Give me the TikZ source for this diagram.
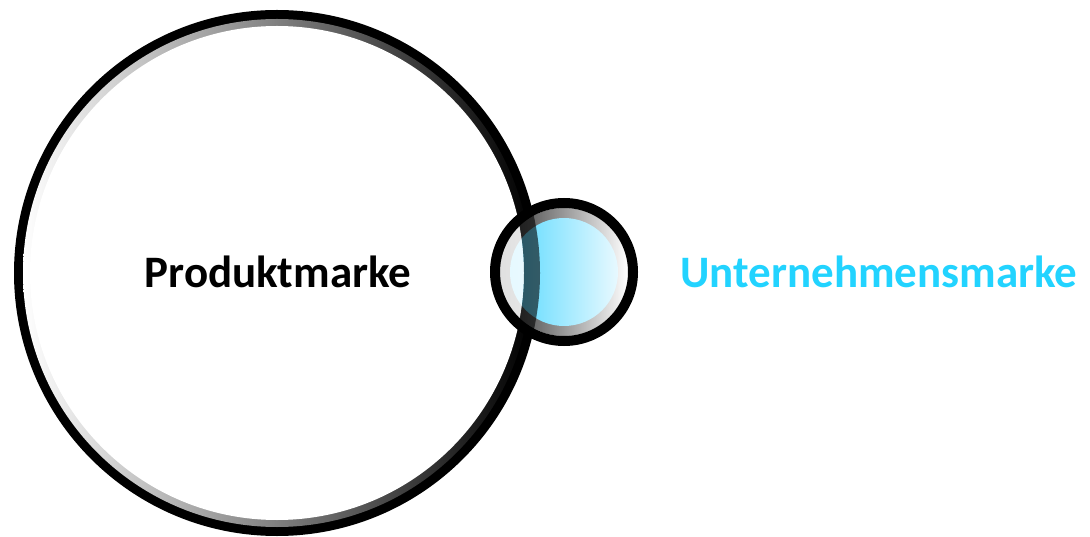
\documentclass[tikz,border=0pt]{standalone}
\usepackage{fontspec}
\setmainfont{Carlito}
\usepackage{tikz}

\definecolor{markcyan}{RGB}{34,211,255}
\definecolor{fillcyan}{RGB}{90,218,255}
\definecolor{fillpale}{RGB}{232,249,255}

\begin{document}
\begin{tikzpicture}[x=1pt,y=-1pt]
            \tikzset{label/.style = {font=\fontsize{45}{50}\selectfont\bfseries, inner sep=0pt, anchor=base}}
            \tikzset{ring/.style = {black, line width=10pt}}

            \useasboundingbox (0,0) rectangle (1090,537);

            \coordinate (pm) at (277,273);
            \coordinate (um) at (564,272);

            % big circle
            \fill[black] (pm) circle[radius=263pt];
            \shade[left color=white, right color=black] (pm) circle[radius=254pt];
            \fill[white] (pm) circle[radius=247pt];

            % small circle
            \shade[left color=black!80, right color=white] (um) circle[radius=64pt];
            \shade[left color=fillcyan, right color=fillpale] (um) circle[radius=54pt];
            \begin{scope}
                \clip (um) circle[radius=64pt];
                \fill[white, opacity=.85] (pm) circle[radius=247pt];
                \fill[black, opacity=.6, even odd rule] (pm) circle[radius=263pt] (pm) circle[radius=247pt];
            \end{scope}
            \draw[ring] (um) circle[radius=69pt];

            \node[label] (produkt) at (278,288) {Produktmarke};
            \node[label, markcyan] (unternehmen) at (879,288) {Unternehmensmarke};
\end{tikzpicture}
\end{document}
